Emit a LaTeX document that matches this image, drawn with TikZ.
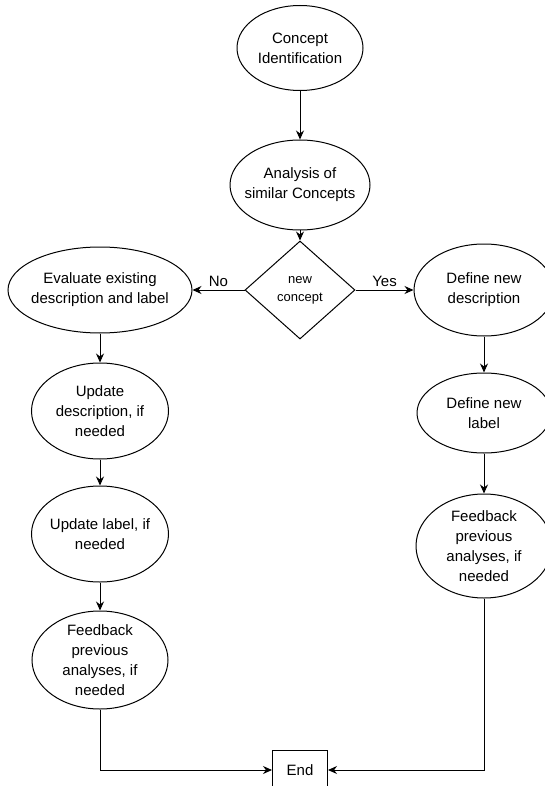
\documentclass[tikz,border=0pt]{standalone}
\usepackage{fontspec}
\setmainfont{Liberation Sans}
\usetikzlibrary{shapes,arrows,arrows.meta}
\usetikzlibrary{positioning,shapes.geometric}
\tikzset{every oval/.style={draw,ellipse,inner sep=-15pt,align=center,font=\fontsize{15}{20}\selectfont},
decision/.style={draw,diamond,inner sep=-10pt,align=center,font=\fontsize{13}{18}\selectfont},
endbox/.style={draw,rectangle,inner sep=0pt,minimum width=55pt,minimum height=40pt,font=\fontsize{15}{20}\selectfont}
}

\begin{document}
\begin{tikzpicture}[> = {Stealth[length=9pt,width=8pt]}, x=1pt, y=-1pt, line width=1pt]
            \clip (0,0) rectangle (545,786);
            \useasboundingbox (0,0) rectangle (545,786);
            \node[every oval,minimum width=126pt,minimum height=85pt] (c_id) at (300,48) {Concept\\Identification};
            \node[every oval,minimum width=140pt,minimum height=90pt] (c_sim) at (300,185) {Analysis of\\similar Concepts};
            \node[decision,minimum width=110pt,minimum height=98pt] (c_new) at (300,290) {new\\concept};
            \node[every oval,minimum width=184pt,minimum height=86pt] (ev) at (100,290) {Evaluate existing\\description and label};
            \node[every oval,minimum width=137pt,minimum height=96pt] (up_d) at (100,411) {Update\\description, if\\needed};
            \node[every oval,minimum width=137pt,minimum height=96pt] (up_l) at (100,534) {Update label, if\\needed};
            \node[every oval,minimum width=136pt,minimum height=98pt] (fb_l) at (100,660) {Feedback\\previous\\analyses, if\\needed};
            \node[every oval,minimum width=140pt,minimum height=92pt] (def_d) at (484,290) {Define new\\description};
            \node[every oval,minimum width=134pt,minimum height=80pt] (def_l) at (484,413) {Define new\\label};
            \node[every oval,minimum width=136pt,minimum height=104pt] (fb_r) at (484,546) {Feedback\\previous\\analyses, if\\needed};
            \node[endbox] (fin) at (300,770) {End};
            \path[->,font=\fontsize{15}{20}\selectfont] (c_id) edge (c_sim)
                (c_sim) edge (c_new)
                (c_new) edge [anchor=south] node {No} (ev)
                (c_new) edge [anchor=south] node {Yes} (def_d)
                (ev) edge (up_d)
                (up_d) edge (up_l)
                (up_l) edge (fb_l)
                (def_d) edge (def_l)
                (def_l) edge (fb_r);
            \draw[->] (fb_l.south) |- (fin.west);
            \draw[->] (fb_r.south) |- (fin.east);
        \end{tikzpicture}
\end{document}
